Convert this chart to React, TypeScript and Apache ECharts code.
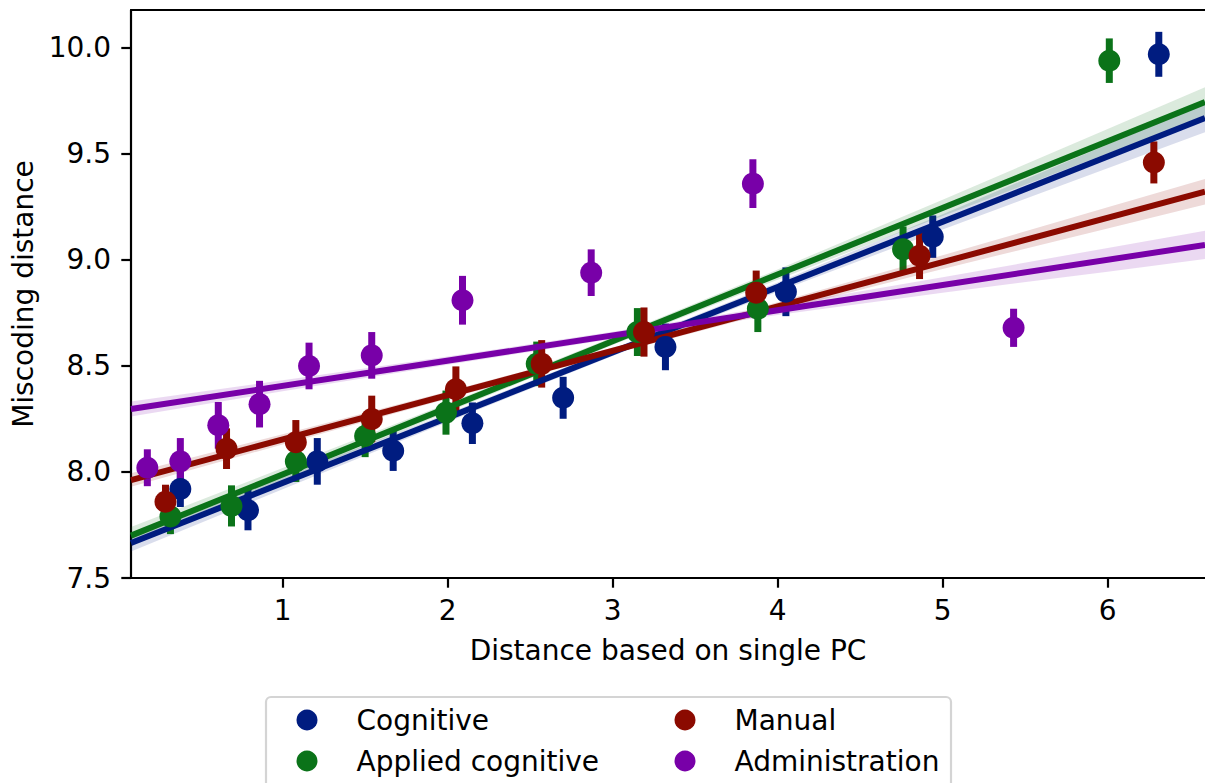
import React, { useEffect, useRef } from "react";
import * as echarts from "echarts";

// ---- data ----
const seriesNames = ["Cognitive", "Applied cognitive", "Manual", "Administration"];
const seriesColors = ["#001c80", "#0b7319", "#8b0a00", "#7800a8"];

const cognitiveX = [0.38, 0.79, 1.21, 1.67, 2.15, 2.70, 3.32, 4.05, 4.94, 6.31];
const cognitiveY = [7.92, 7.82, 8.05, 8.10, 8.23, 8.35, 8.59, 8.85, 9.11, 9.97];
const cognitiveErr = [0.085, 0.095, 0.11, 0.095, 0.098, 0.099, 0.11, 0.115, 0.1, 0.106];

const appliedX = [0.32, 0.69, 1.08, 1.5, 1.99, 2.54, 3.15, 3.88, 4.76, 6.01];
const appliedY = [7.79, 7.84, 8.05, 8.17, 8.28, 8.51, 8.66, 8.77, 9.05, 9.94];
const appliedErr = [0.083, 0.097, 0.097, 0.1, 0.104, 0.105, 0.113, 0.11, 0.108, 0.105];

const manualX = [0.29, 0.66, 1.08, 1.54, 2.05, 2.57, 3.19, 3.87, 4.86, 6.28];
const manualY = [7.86, 8.11, 8.14, 8.25, 8.39, 8.51, 8.66, 8.845, 9.02, 9.46];
const manualErr = [0.08, 0.096, 0.105, 0.11, 0.108, 0.112, 0.116, 0.105, 0.11, 0.099];

const adminX = [0.18, 0.38, 0.61, 0.86, 1.16, 1.54, 2.09, 2.87, 3.85, 5.43];
const adminY = [8.02, 8.05, 8.22, 8.32, 8.5, 8.55, 8.81, 8.94, 9.36, 8.68];
const adminErr = [0.087, 0.11, 0.11, 0.11, 0.11, 0.11, 0.115, 0.11, 0.115, 0.09];

// regression lines (value at left and right axis limits)
const fitX = [0.081, 6.59];
const cognitiveFit = [7.665, 9.67];
const appliedFit = [7.7, 9.745];
const manualFit = [7.962, 9.322];
const adminFit = [8.297, 9.071];

// confidence band half-widths along the fit
const bandX = [0.081, 1, 2, 3, 4, 5, 6, 6.59];
const cognitiveBand = [0.04, 0.03, 0.02, 0.017, 0.022, 0.036, 0.056, 0.068];
const appliedBand = [0.04, 0.03, 0.02, 0.018, 0.024, 0.038, 0.058, 0.07];
const manualBand = [0.032, 0.024, 0.017, 0.015, 0.02, 0.032, 0.05, 0.06];
const adminBand = [0.035, 0.026, 0.019, 0.017, 0.022, 0.036, 0.056, 0.067];

const xTicks = [1, 2, 3, 4, 5, 6];
const yTicks = [7.5, 8.0, 8.5, 9.0, 9.5, 10.0];
const xMin = 0.081;
const xMax = 6.59;
const yMin = 7.5;
const yMax = 10.179;

const groups = [
  { x: cognitiveX, y: cognitiveY, err: cognitiveErr, fit: cognitiveFit, band: cognitiveBand },
  { x: appliedX, y: appliedY, err: appliedErr, fit: appliedFit, band: appliedBand },
  { x: manualX, y: manualY, err: manualErr, fit: manualFit, band: manualBand },
  { x: adminX, y: adminY, err: adminErr, fit: adminFit, band: adminBand },
];

const FONT = "DejaVu Sans";
const FS = 28;

function hexToRgba(hex: string, a: number) {
  const n = parseInt(hex.slice(1), 16);
  return `rgba(${(n >> 16) & 255},${(n >> 8) & 255},${n & 255},${a})`;
}

export default function App() {
  const ref = useRef<HTMLDivElement>(null);
  useEffect(() => {
    if (!ref.current) return;
    const chart = echarts.init(ref.current, undefined, { renderer: "svg" });
    const series: any[] = [];
    groups.forEach((g, gi) => {
      const color = seriesColors[gi];
      const name = seriesNames[gi];
      const lineAt = (x: number) =>
        g.fit[0] + ((g.fit[1] - g.fit[0]) * (x - fitX[0])) / (fitX[1] - fitX[0]);
      const bandData = bandX.map((x, i) => [x, lineAt(x) - g.band[i], lineAt(x) + g.band[i]]);
      series.push({
        name: name + " band",
        type: "custom",
        silent: true,
        data: bandData,
        encode: { x: 0, y: [1, 2] },
        renderItem: (params: any, api: any) => {
          if (params.dataIndex !== 0) return null;
          const upper = bandData.map((d) => api.coord([d[0], d[2]]));
          const lower = bandData.map((d) => api.coord([d[0], d[1]])).reverse();
          return {
            type: "polygon",
            shape: { points: upper.concat(lower) },
            style: { fill: hexToRgba(color, 0.15) },
          };
        },
        clip: true,
        z: 2,
      });
      series.push({
        name,
        type: "scatter",
        data: g.x.map((x, i) => [x, g.y[i]]),
        symbol: "circle",
        symbolSize: 22,
        itemStyle: { color, opacity: 1 },
        z: 2,
      });
      series.push({
        name: name + " err",
        type: "custom",
        silent: true,
        data: g.x.map((x, i) => [x, g.y[i], g.err[i]]),
        encode: { x: 0, y: 1 },
        renderItem: (params: any, api: any) => {
          const x = api.value(0);
          const y = api.value(1);
          const e = api.value(2);
          const p1 = api.coord([x, y - e]);
          const p2 = api.coord([x, y + e]);
          return {
            type: "line",
            shape: { x1: p1[0], y1: p1[1], x2: p2[0], y2: p2[1] },
            style: { stroke: color, lineWidth: 7 },
          };
        },
        z: 2,
      });
      series.push({
        name: name + " fit",
        type: "line",
        data: fitX.map((x, i) => [x, g.fit[i]]),
        showSymbol: false,
        symbol: "none",
        lineStyle: { color, width: 6 },
        silent: true,
        z: 2,
      });
    });

    const legendCommon = {
      orient: "vertical",
      top: 706,
      itemWidth: 21,
      itemHeight: 21,
      itemGap: 13,
      padding: 0,
      icon: "circle",
      textStyle: { fontFamily: FONT, fontSize: FS, color: "#000", lineHeight: 28, padding: [0, 0, 0, 34] },
    };

    chart.setOption({
      animation: false,
      textStyle: { fontFamily: FONT },
      grid: { left: 131, top: 10, width: 1075, height: 568, containLabel: false },
      xAxis: [
        {
          type: "value",
          min: xMin,
          max: xMax,
          position: "bottom",
          name: "Distance based on single PC",
          nameLocation: "middle",
          nameGap: 58,
          nameTextStyle: { fontFamily: FONT, fontSize: FS, color: "#000" },
          axisLine: { show: true, onZero: false, lineStyle: { color: "#000", width: 2.2 } },
          axisTick: { show: true, customValues: xTicks, length: 9.7, lineStyle: { color: "#000", width: 2.2 } },
          axisLabel: {
            show: true,
            customValues: xTicks,
            margin: 18,
            fontFamily: FONT,
            fontSize: FS,
            color: "#000",
            formatter: (v: number) => String(Math.round(v)),
          },
          splitLine: { show: false },
        },
        {
          type: "value",
          min: xMin,
          max: xMax,
          position: "top",
          axisLine: { show: true, onZero: false, lineStyle: { color: "#000", width: 2.2 } },
          axisTick: { show: false },
          axisLabel: { show: false },
          splitLine: { show: false },
        },
      ],
      yAxis: {
        type: "value",
        min: yMin,
        max: yMax,
        name: "Miscoding distance",
        nameLocation: "middle",
        nameRotate: 90,
        nameGap: 93,
        nameTextStyle: { fontFamily: FONT, fontSize: FS, color: "#000" },
        axisLine: { show: true, onZero: false, lineStyle: { color: "#000", width: 2.2 } },
        axisTick: { show: true, customValues: yTicks, length: 9.7, lineStyle: { color: "#000", width: 2.2 } },
        axisLabel: {
          show: true,
          customValues: yTicks,
          margin: 20,
          fontFamily: FONT,
          fontSize: FS,
          color: "#000",
          formatter: (v: number) => v.toFixed(1),
        },
        splitLine: { show: false },
      },
      legend: [
        { ...legendCommon, left: 296.5, data: [seriesNames[0], seriesNames[1]] },
        { ...legendCommon, left: 674.5, data: [seriesNames[2], seriesNames[3]] },
      ],
      graphic: [
        {
          type: "rect",
          z: -10,
          shape: { x: 266, y: 697, width: 685, height: 120, r: 5 },
          style: { fill: "#fff", stroke: "#d4d4d4", lineWidth: 2.2 },
        },
      ],
      series,
    });
    return () => chart.dispose();
  }, []);
  return (
    <div
      ref={ref}
      style={{ position: "absolute", left: 0, top: 0, width: 1205, height: 783, background: "#fff" }}
    />
  );
}
